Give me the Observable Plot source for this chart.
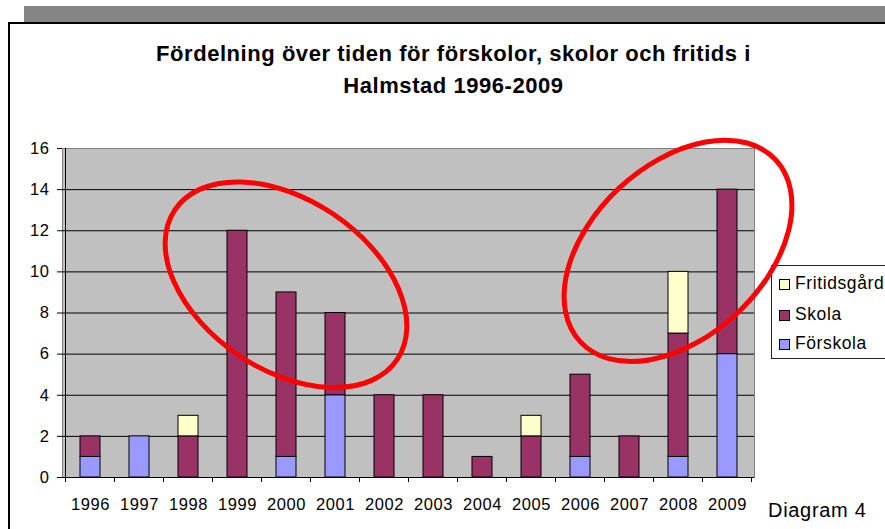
<!DOCTYPE html>
<html>
<head>
<meta charset="utf-8">
<script src="https://cdn.jsdelivr.net/npm/d3@7"></script>
<script src="https://cdn.jsdelivr.net/npm/@observablehq/plot@0.6"></script>
<style>
  html, body { margin: 0; padding: 0; background: #fff; overflow: hidden; }
  #wrap { position: relative; width: 885px; height: 529px; overflow: hidden;
          font-family: "Liberation Sans", Arial, sans-serif; color: #000; }
  #topbar { position: absolute; left: 24px; top: 6px; width: 861px; height: 16px; background: #858585; }
  #frame { position: absolute; left: 8px; top: 22px; width: 900px; height: 600px;
           border-left: 2px solid #000; border-top: 2px solid #000; }
  #title { position: absolute; left: 0; width: 907px; top: 38px; text-align: center;
           font-weight: bold; font-size: 22px; letter-spacing: 0.55px; line-height: 32px; }
  #legend { position: absolute; left: 771px; top: 265px; width: 140px; height: 92px;
            border: 1px solid #222; background: #fff; }
  .item { position: absolute; left: 0; height: 20px; font-size: 17.5px; letter-spacing: 0.6px; line-height: 20px; white-space: nowrap; }
  .sw { position: absolute; left: 7px; top: 6px; width: 9px; height: 9px; border: 1px solid #000; }
  .lab { position: absolute; left: 23px; top: 0; }
  #diag { position: absolute; left: 768px; top: 500px; font-size: 20px; line-height: 20px; letter-spacing: 0.7px; white-space: nowrap; }
  #chart { position: absolute; left: 0; top: 0; }
</style>
</head>
<body>
<div id="wrap">
  <div id="topbar"></div>
  <div id="frame"></div>
  <div id="title">Fördelning över tiden för förskolor, skolor och fritids i<br>Halmstad 1996-2009</div>
  <div id="legend"></div>
  <div id="diag">Diagram 4</div>
  <div id="chart"></div>
</div>
<script>
// ---- data ----
const years = ["1996","1997","1998","1999","2000","2001","2002","2003","2004","2005","2006","2007","2008","2009"];
const forskola    = [1, 2, 0, 0, 1, 4, 0, 0, 0, 0, 1, 0, 1, 6];
const skola       = [1, 0, 2, 12, 8, 4, 4, 4, 1, 2, 4, 2, 6, 8];
const fritidsgard = [0, 0, 1, 0, 0, 0, 0, 0, 0, 1, 0, 0, 3, 0];
const seriesNames = ["Förskola", "Skola", "Fritidsgård"];
const legendNames = ["Fritidsgård", "Skola", "Förskola"];
const yTicks = [0, 2, 4, 6, 8, 10, 12, 14, 16];
const gridTicks = [2, 4, 6, 8, 10, 12, 14];
// highlighted regions (annotation centres in data units)
const circledYears = ["2000", "2008"];
const circledValues = [9.35, 11];

// ---- styles ----
const seriesColors = {"Förskola": "#9999ff", "Skola": "#993366", "Fritidsgård": "#ffffcc"};
const ellipseStyle = [
  {rx: 134, ry: 85, angle: 34},
  {rx: 133.5, ry: 86, angle: -43}
];

const seriesValues = [forskola, skola, fritidsgard];
const rows = [];
seriesNames.forEach((name, s) => {
  years.forEach((yr, i) => {
    const v = seriesValues[s][i];
    if (v > 0) rows.push({year: yr, type: name, value: v});
  });
});

const chart = Plot.plot({
  width: 885,
  height: 529,
  marginLeft: 62,
  marginRight: 131,
  marginTop: 148,
  marginBottom: 52,
  style: {
    background: "transparent",
    fontFamily: "'Liberation Sans', Arial, sans-serif",
    fontSize: "16.5px",
    letterSpacing: "0.6px",
    color: "#000",
    overflow: "visible"
  },
  x: {domain: years, paddingInner: 0.6, paddingOuter: 0.3, align: 0.5,
      tickSize: 0, tickPadding: 21, label: null},
  y: {domain: [0, 16], ticks: yTicks, tickSize: 5, tickPadding: 8, label: null},
  color: {domain: seriesNames, range: seriesNames.map(n => seriesColors[n])},
  marks: [
    Plot.frame({fill: "#c0c0c0", stroke: "#808080"}),
    Plot.ruleY(gridTicks, {stroke: "#000", strokeWidth: 1}),
    Plot.barY(rows, {x: "year", y: "value", fill: "type", stroke: "#000", strokeWidth: 1, order: seriesNames}),
    Plot.ruleY([0], {stroke: "#000", strokeWidth: 1})
  ]
});

// Excel-style axis line and category tick marks, via the plot's own scales
const xs = chart.scale("x");
const ys = chart.scale("y");
const step = xs.step, bw = xs.bandwidth;
const y0 = ys.apply(0), yTop = ys.apply(16);
const g = d3.select(chart).append("g");
const bounds = years.map(yr => xs.apply(yr) + bw / 2 - step / 2);
bounds.push(bounds[bounds.length - 1] + step);
g.append("line").attr("x1", bounds[0]).attr("x2", bounds[0]).attr("y1", yTop).attr("y2", y0)
  .attr("stroke", "#000").attr("stroke-width", 1).attr("shape-rendering", "crispEdges");
bounds.forEach(b => {
  g.append("line").attr("x1", b).attr("x2", b).attr("y1", y0).attr("y2", y0 + 5)
    .attr("stroke", "#000").attr("stroke-width", 1).attr("shape-rendering", "crispEdges");
});

// red highlight ellipses
circledYears.forEach((yr, i) => {
  const cx = xs.apply(yr) + bw / 2;
  const cy = ys.apply(circledValues[i]);
  const st = ellipseStyle[i];
  g.append("ellipse")
    .attr("cx", 0).attr("cy", 0).attr("rx", st.rx).attr("ry", st.ry)
    .attr("transform", `translate(${cx},${cy}) rotate(${st.angle})`)
    .attr("fill", "none").attr("stroke", "#ff0000").attr("stroke-width", 5);
});

document.getElementById("chart").appendChild(chart);

// legend
const legend = document.getElementById("legend");
const legendTops = [7, 38, 67];
legendNames.forEach((name, i) => {
  const it = document.createElement("div");
  it.className = "item";
  it.style.top = legendTops[i] + "px";
  const sw = document.createElement("div");
  sw.className = "sw";
  sw.style.background = seriesColors[name];
  const lab = document.createElement("div");
  lab.className = "lab";
  lab.textContent = name;
  it.appendChild(sw);
  it.appendChild(lab);
  legend.appendChild(it);
});
</script>
</body>
</html>
